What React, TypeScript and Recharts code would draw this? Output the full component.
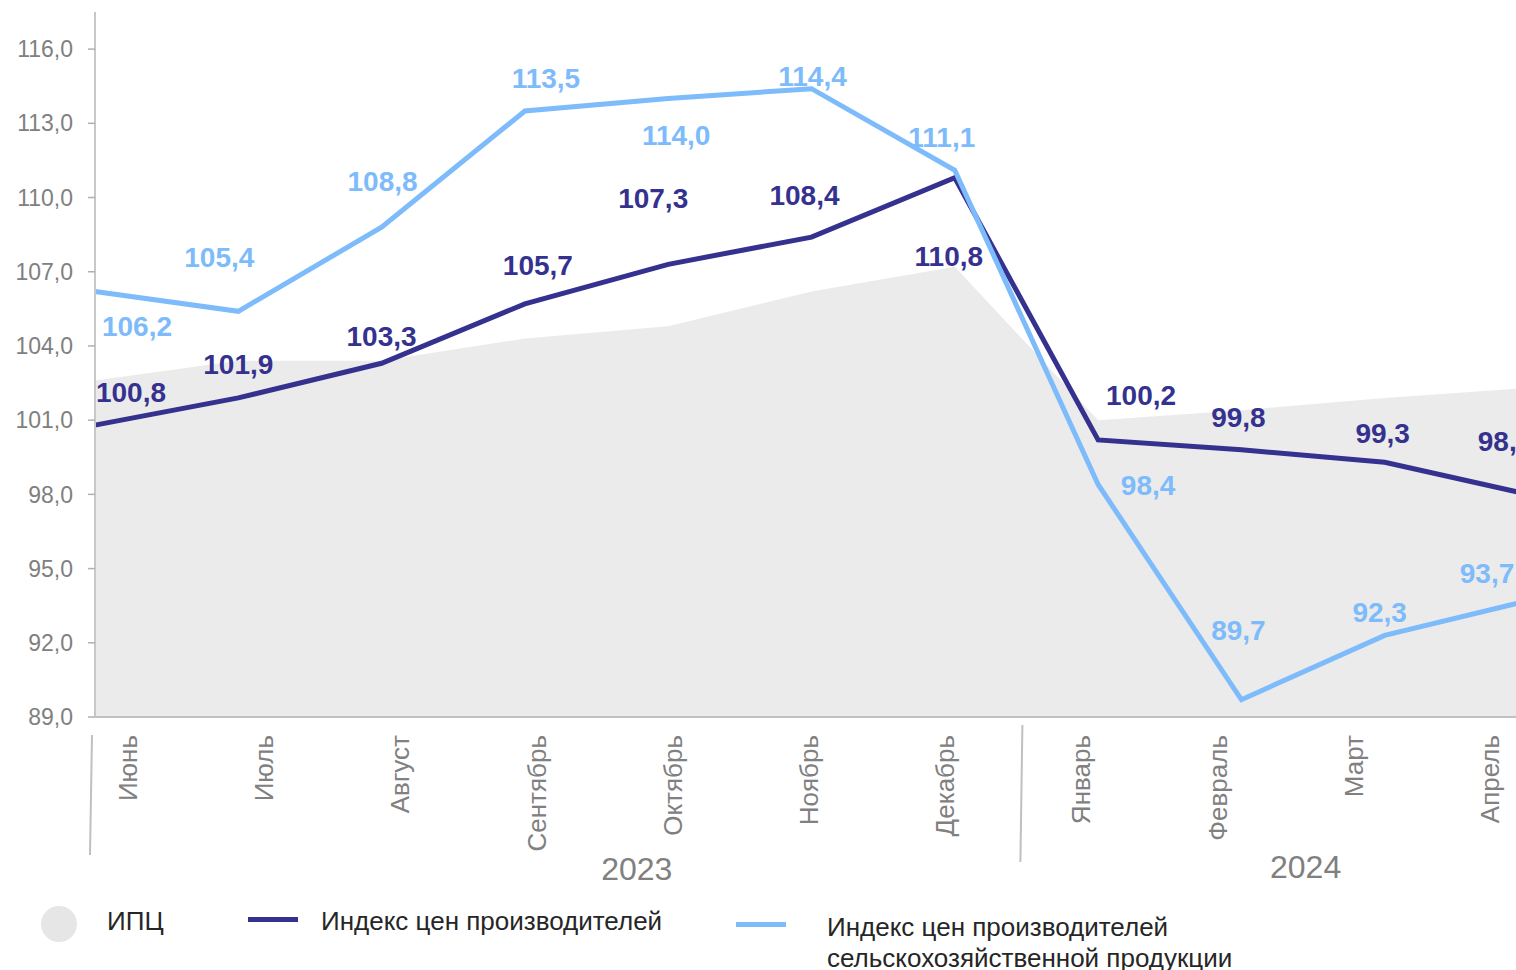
import React from 'react';
import { ComposedChart, Area, Line, XAxis, YAxis } from 'recharts';

const months = ['Июнь', 'Июль', 'Август', 'Сентябрь', 'Октябрь', 'Ноябрь', 'Декабрь', 'Январь', 'Февраль', 'Март', 'Апрель'];
const cpi = [102.6, 103.4, 103.4, 104.3, 104.8, 106.2, 107.2, 101.0, 101.4, 101.9, 102.3];
const ppi = [100.8, 101.9, 103.3, 105.7, 107.3, 108.4, 110.8, 100.2, 99.8, 99.3, 98.0];
const agri = [106.2, 105.4, 108.8, 113.5, 114.0, 114.4, 111.1, 98.4, 89.7, 92.3, 93.7];
const yTicks = [89, 92, 95, 98, 101, 104, 107, 110, 113, 116];
const years = ['2023', '2024'];

// label offsets (px) relative to each point
const ppiOffsets = [[36, -33], [0, -33], [0, -27], [13, -38], [-15, -66], [-7, -42], [-6, 79], [43, -44], [-3, -32], [-2, -29], [-23, -53]];
const agriOffsets = [[42, 35], [-19, -54], [1, -46], [21, -32], [8, 37], [1, -12], [-13, -33], [50, 1], [-3, -69], [-5, -23], [-41, -27]];

const data = months.map((m, i) => ({ month: m, cpi: cpi[i], ppi: ppi[i], agri: agri[i] }));

const FONT = '"Liberation Sans", Arial, sans-serif';
const DARK = '#34318f';
const LIGHT = '#7dbbfb';
const AREA = '#ebebeb';
const GREY = '#808080';

const fmt = (v: number) => v.toFixed(1).replace('.', ',');

const makeLabel = (offsets: number[][], color: string) => (props: any) => {
  const { x, y, value, index } = props;
  if (x == null || y == null) return null;
  const o = offsets[index] || [0, -30];
  return (
    <text x={x + o[0]} y={y + o[1]} fill={color} fontSize={28} fontWeight="bold" fontFamily={FONT}
      textAnchor="middle" dominantBaseline="central">
      {fmt(Number(value))}
    </text>
  );
};

const MonthTick = (props: any) => {
  const { x, y, payload } = props;
  const i = payload.index;
  const top = y;
  return (
    <g>
      <text x={x} y={top} transform={`rotate(-90, ${x}, ${top})`} textAnchor="end" dominantBaseline="central"
        fill={GREY} fontSize={26} fontFamily={FONT}>
        {payload.value}
      </text>
      {i === 0 && <line x1={x - 36} y1={top} x2={x - 38} y2={top + 120} stroke="#c0c0c0" strokeWidth={2} />}
      {i === 7 && <line x1={x - 59} y1={top - 10} x2={x - 61} y2={top + 127} stroke="#c0c0c0" strokeWidth={2} />}
      {i === 4 && (
        <text x={x - 36} y={top + 134} textAnchor="middle" dominantBaseline="central" fill={GREY} fontSize={32} fontFamily={FONT}>
          {years[0]}
        </text>
      )}
      {i === 8 && (
        <text x={x + 88} y={top + 132} textAnchor="middle" dominantBaseline="central" fill={GREY} fontSize={32} fontFamily={FONT}>
          {years[1]}
        </text>
      )}
    </g>
  );
};

const legendText: React.CSSProperties = {
  position: 'absolute',
  fontFamily: FONT,
  fontSize: 26,
  lineHeight: '31px',
  color: '#262626',
  whiteSpace: 'nowrap',
};

export default function App() {
  return (
    <div style={{ position: 'fixed', left: 0, top: 0, width: 1516, height: 970, overflow: 'hidden', background: '#fff' }}>
      <ComposedChart width={1540} height={970} data={data} margin={{ top: 12, right: 12, bottom: 0, left: 0 }}>
        <XAxis dataKey="month" xAxisId="data" scale="point" padding={{ left: 0, right: 0 }} height={0} hide />
        <XAxis dataKey="month" xAxisId="labels" scale="point" padding={{ left: 33, right: 38 }} height={253}
          axisLine={{ stroke: '#c0c0c0', strokeWidth: 2 }} tickLine={false} tickSize={0} tickMargin={18}
          interval={0} tick={<MonthTick />} />
        <YAxis domain={[89, 117.5]} ticks={yTicks} width={95} allowDataOverflow
          axisLine={{ stroke: '#c8c8c8', strokeWidth: 2 }} tickLine={{ stroke: '#b0b0b0', strokeWidth: 1.5 }} tickSize={7} tickMargin={15}
          tickFormatter={fmt} tick={{ fill: GREY, fontSize: 23, fontFamily: FONT }} />
        <Area xAxisId="data" dataKey="cpi" type="linear" fill={AREA} fillOpacity={1} stroke="none" isAnimationActive={false} />
        <Line xAxisId="data" dataKey="ppi" type="linear" stroke={DARK} strokeWidth={5} dot={false}
          isAnimationActive={false} label={makeLabel(ppiOffsets, DARK)} />
        <Line xAxisId="data" dataKey="agri" type="linear" stroke={LIGHT} strokeWidth={5} dot={false}
          isAnimationActive={false} label={makeLabel(agriOffsets, LIGHT)} />
      </ComposedChart>
      <div style={{ position: 'absolute', left: 41, top: 906, width: 36, height: 36, borderRadius: '50%', background: '#e6e6e6' }} />
      <div style={{ ...legendText, left: 107, top: 906 }}>ИПЦ</div>
      <div style={{ position: 'absolute', left: 248, top: 917, width: 50, height: 5, background: DARK }} />
      <div style={{ ...legendText, left: 321, top: 906 }}>Индекс цен производителей</div>
      <div style={{ position: 'absolute', left: 736, top: 922, width: 50, height: 5, background: LIGHT }} />
      <div style={{ ...legendText, left: 827, top: 912 }}>Индекс цен производителей<br />сельскохозяйственной продукции</div>
    </div>
  );
}
